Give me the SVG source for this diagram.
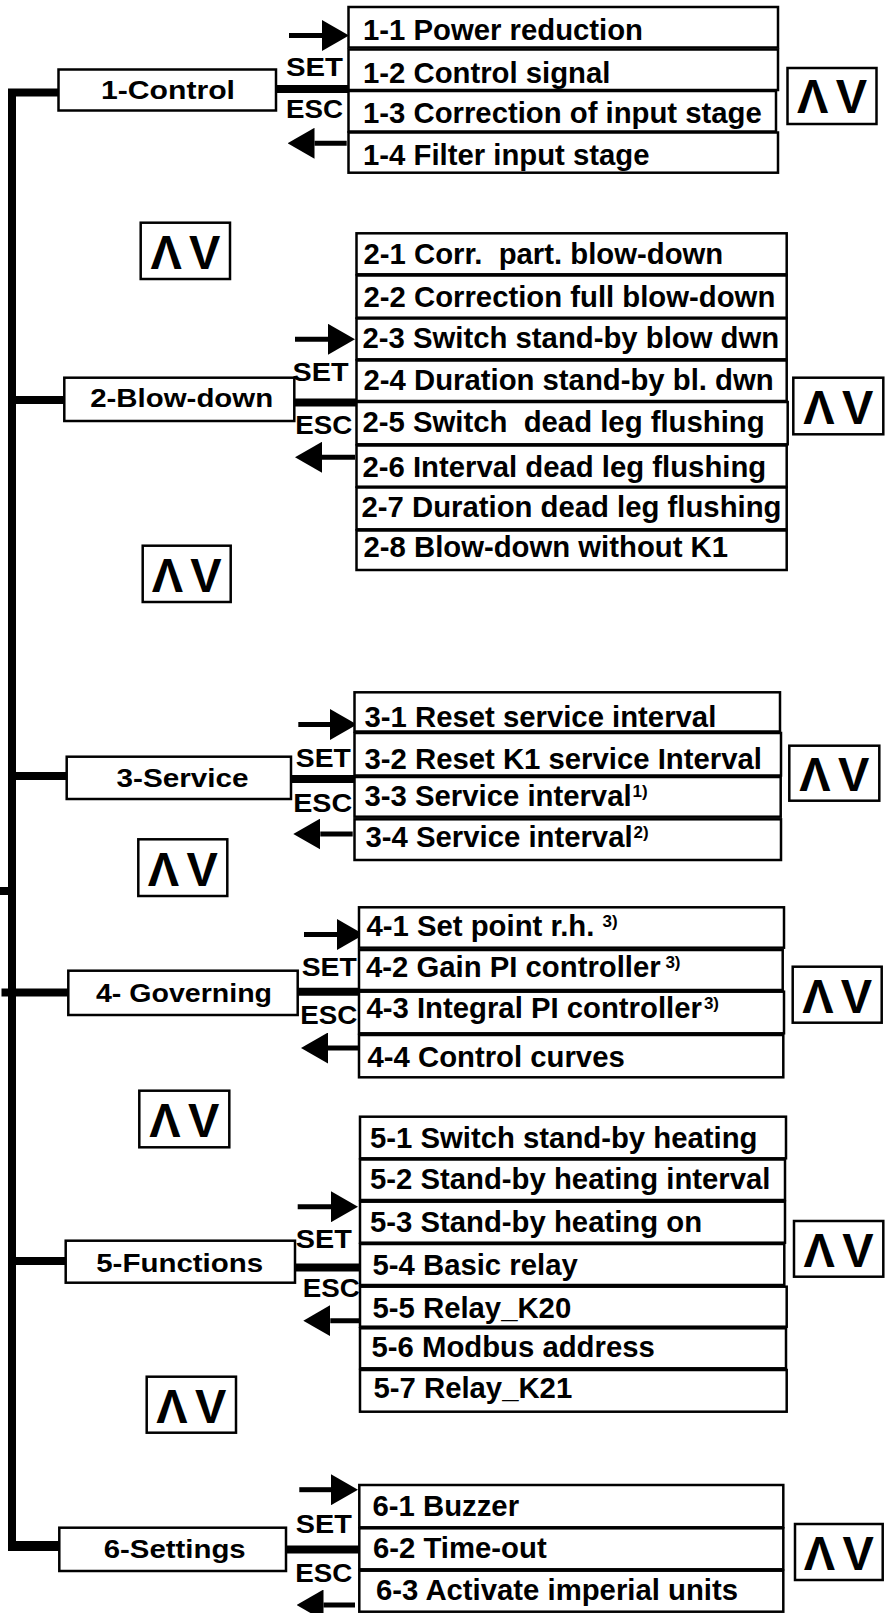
<svg xmlns="http://www.w3.org/2000/svg" width="890" height="1613" viewBox="0 0 890 1613">
<style>
.box{fill:#fff;stroke:#000;stroke-width:2.5}
.t{font-family:"Liberation Sans",Arial,sans-serif;font-weight:bold;fill:#000}
.item{font-size:29.3px}
.main{font-size:26px;text-anchor:middle}
.key{font-size:26px;text-anchor:middle}
.av{font-size:49px;text-anchor:middle;word-spacing:-6px}
.sup{font-size:17px}
.thick{stroke:#000;stroke-width:8;fill:none}
.arr{stroke:#000;stroke-width:5;fill:none;marker-end:url(#head)}
</style>
<defs>
<marker id="head" markerUnits="userSpaceOnUse" markerWidth="27" markerHeight="31" refX="0" refY="15.5" orient="auto" viewBox="0 0 27 31"><path d="M0,0 L27,15.5 L0,31 Z" fill="#000"/></marker>
</defs>
<rect width="890" height="1613" fill="#fff"/>
<g id="connectors">
<path class="thick" d="M58,92.5 H12 V1546"/>
<line class="thick" x1="8" y1="1546" x2="62" y2="1546" style="stroke-width:10"/>
<line class="thick" x1="12" y1="400" x2="65" y2="400"/>
<line class="thick" x1="12" y1="776" x2="67" y2="776"/>
<line class="thick" x1="0" y1="891" x2="12" y2="891"/>
<line class="thick" x1="1.5" y1="992.5" x2="69" y2="992.5"/>
<line class="thick" x1="12" y1="1261" x2="66" y2="1261"/>
<line class="thick" x1="276" y1="89" x2="349" y2="89"/>
<line class="thick" x1="294" y1="402.5" x2="357" y2="402.5"/>
<line class="thick" x1="291" y1="779" x2="355" y2="779"/>
<line class="thick" x1="297" y1="991.7" x2="359" y2="991.7"/>
<line class="thick" x1="295" y1="1267.5" x2="360" y2="1267.5"/>
<line class="thick" x1="286" y1="1549.5" x2="360" y2="1549.5"/>
<line class="arr" x1="289" y1="35.5" x2="322" y2="35.5"/>
<line class="arr" x1="346.7" y1="143.3" x2="314.5" y2="143.3"/>
<line class="arr" x1="295" y1="339.3" x2="328" y2="339.3"/>
<line class="arr" x1="355" y1="457.3" x2="322" y2="457.3"/>
<line class="arr" x1="298.3" y1="724.5" x2="330" y2="724.5"/>
<line class="arr" x1="352.7" y1="834" x2="320.3" y2="834"/>
<line class="arr" x1="304" y1="934.5" x2="337" y2="934.5"/>
<line class="arr" x1="360" y1="1048" x2="328" y2="1048"/>
<line class="arr" x1="297.7" y1="1206.7" x2="331" y2="1206.7"/>
<line class="arr" x1="362.7" y1="1320.7" x2="330.3" y2="1320.7"/>
<line class="arr" x1="299.3" y1="1489.7" x2="331" y2="1489.7"/>
<line class="arr" x1="355" y1="1605" x2="323.5" y2="1605"/>
<text class="t key" x="314.5" y="76" textLength="57" lengthAdjust="spacingAndGlyphs">SET</text>
<text class="t key" x="314.5" y="118" textLength="57" lengthAdjust="spacingAndGlyphs">ESC</text>
<text class="t key" x="320.5" y="381" textLength="56" lengthAdjust="spacingAndGlyphs">SET</text>
<text class="t key" x="323.8" y="434.3" textLength="57" lengthAdjust="spacingAndGlyphs">ESC</text>
<text class="t key" x="323.3" y="767.3" textLength="55" lengthAdjust="spacingAndGlyphs">SET</text>
<text class="t key" x="322.7" y="812.3" textLength="59" lengthAdjust="spacingAndGlyphs">ESC</text>
<text class="t key" x="329.2" y="975.7" textLength="55" lengthAdjust="spacingAndGlyphs">SET</text>
<text class="t key" x="328.7" y="1024.3" textLength="57" lengthAdjust="spacingAndGlyphs">ESC</text>
<text class="t key" x="323.8" y="1248.3" textLength="56" lengthAdjust="spacingAndGlyphs">SET</text>
<text class="t key" x="331.3" y="1296.7" textLength="57" lengthAdjust="spacingAndGlyphs">ESC</text>
<text class="t key" x="323.8" y="1533.3" textLength="56" lengthAdjust="spacingAndGlyphs">SET</text>
<text class="t key" x="323.8" y="1581.7" textLength="57" lengthAdjust="spacingAndGlyphs">ESC</text>
</g>
<g id="m1"><rect class="box" x="58.5" y="69.5" width="217.5" height="41"/><text class="t main" x="168" y="99.3" textLength="134" lengthAdjust="spacingAndGlyphs">1-Control</text></g>
<g id="m2"><rect class="box" x="64.3" y="377.7" width="230" height="43.3"/><text class="t main" x="181.7" y="407.3" textLength="183" lengthAdjust="spacingAndGlyphs">2-Blow-down</text></g>
<g id="m3"><rect class="box" x="66.7" y="756.7" width="224.3" height="42.3"/><text class="t main" x="182.5" y="787.3" textLength="132" lengthAdjust="spacingAndGlyphs">3-Service</text></g>
<g id="m4"><rect class="box" x="68.3" y="970.7" width="229.4" height="44.3"/><text class="t main" x="184" y="1001.7" textLength="176" lengthAdjust="spacingAndGlyphs">4- Governing</text></g>
<g id="m5"><rect class="box" x="65.7" y="1240.7" width="229.3" height="42"/><text class="t main" x="179.7" y="1271.7" textLength="167" lengthAdjust="spacingAndGlyphs">5-Functions</text></g>
<g id="m6"><rect class="box" x="59.3" y="1527.7" width="226.7" height="43.3"/><text class="t main" x="174.7" y="1557.7" textLength="142" lengthAdjust="spacingAndGlyphs">6-Settings</text></g>
<g id="s1-1"><rect class="box" x="348.5" y="7" width="429.5" height="40.5"/><text class="t item" x="363" y="40">1-1 Power reduction</text></g>
<g id="s1-2"><rect class="box" x="348.5" y="49.5" width="429.5" height="40.5"/><text class="t item" x="363" y="82.7">1-2 Control signal</text></g>
<g id="s1-3"><rect class="box" x="348.5" y="91" width="427.5" height="40.5"/><text class="t item" x="363" y="123.3">1-3 Correction of input stage</text></g>
<g id="s1-4"><rect class="box" x="348.5" y="132.5" width="429.5" height="40.2"/><text class="t item" x="363" y="165">1-4 Filter input stage</text></g>
<g id="s2-1"><rect class="box" x="356.5" y="233.3" width="430.2" height="41"/><text class="t item" x="363.5" y="264.3" xml:space="preserve">2-1 Corr.  part. blow-down</text></g>
<g id="s2-2"><rect class="box" x="356.5" y="275.5" width="430.2" height="42.2"/><text class="t item" x="363.5" y="306.7">2-2 Correction full blow-down</text></g>
<g id="s2-3"><rect class="box" x="356.5" y="318.5" width="430.2" height="40.8"/><text class="t item" x="362.5" y="347.7">2-3 Switch stand-by blow dwn</text></g>
<g id="s2-4"><rect class="box" x="356.5" y="360.5" width="430.2" height="40.5"/><text class="t item" x="363.5" y="390">2-4 Duration stand-by bl. dwn</text></g>
<g id="s2-5"><rect class="box" x="356.5" y="402" width="431.2" height="42.3"/><text class="t item" x="362.5" y="431.7" xml:space="preserve">2-5 Switch  dead leg flushing</text></g>
<g id="s2-6"><rect class="box" x="356.5" y="445.5" width="430.2" height="41.2"/><text class="t item" x="362.5" y="476.7">2-6 Interval dead leg flushing</text></g>
<g id="s2-7"><rect class="box" x="356.5" y="487.5" width="430.2" height="41.8"/><text class="t item" x="361.5" y="517.3">2-7 Duration dead leg flushing</text></g>
<g id="s2-8"><rect class="box" x="356.5" y="530.5" width="430.2" height="39.5"/><text class="t item" x="363.5" y="556.7">2-8 Blow-down without K1</text></g>
<g id="s3-1"><rect class="box" x="354.5" y="692.3" width="425.5" height="39.2"/><text class="t item" x="364.5" y="726.7">3-1 Reset service interval</text></g>
<g id="s3-2"><rect class="box" x="354.5" y="733" width="426.5" height="42.5"/><text class="t item" x="364.5" y="769.3">3-2 Reset K1 service Interval</text></g>
<g id="s3-3"><rect class="box" x="354.5" y="777" width="426.2" height="39.7"/><text class="t item" x="364.5" y="806">3-3 Service interval<tspan class="sup" dx="1" dy="-9">1)</tspan></text></g>
<g id="s3-4"><rect class="box" x="354.5" y="819.3" width="426.5" height="40.7"/><text class="t item" x="365.5" y="846.7">3-4 Service interval<tspan class="sup" dx="1" dy="-9">2)</tspan></text></g>
<g id="s4-1"><rect class="box" x="359" y="907.3" width="425" height="40.4"/><text class="t item" x="366.5" y="936" xml:space="preserve">4-1 Set point r.h. <tspan class="sup" dy="-9">3)</tspan></text></g>
<g id="s4-2"><rect class="box" x="359" y="950" width="423.7" height="40"/><text class="t item" x="366" y="976.7" xml:space="preserve">4-2 Gain PI controller<tspan class="sup" dy="-9"> 3)</tspan></text></g>
<g id="s4-3"><rect class="box" x="359" y="991.7" width="425" height="41.6"/><text class="t item" x="366.5" y="1018.3">4-3 Integral PI controller<tspan class="sup" dx="2" dy="-9">3)</tspan></text></g>
<g id="s4-4"><rect class="box" x="359" y="1035" width="424.3" height="42.3"/><text class="t item" x="367.5" y="1066.7">4-4 Control curves</text></g>
<g id="s5-1"><rect class="box" x="360" y="1116.7" width="426" height="41.6"/><text class="t item" x="370" y="1148.3">5-1 Switch stand-by heating</text></g>
<g id="s5-2"><rect class="box" x="360" y="1159.5" width="425" height="40.5"/><text class="t item" x="370" y="1189.3">5-2 Stand-by heating interval</text></g>
<g id="s5-3"><rect class="box" x="360" y="1201.7" width="425" height="41"/><text class="t item" x="370" y="1231.7">5-3 Stand-by heating on</text></g>
<g id="s5-4"><rect class="box" x="360" y="1244" width="424.3" height="41"/><text class="t item" x="372.5" y="1275">5-4 Basic relay</text></g>
<g id="s5-5"><rect class="box" x="360" y="1286.7" width="426.7" height="40"/><text class="t item" x="372.5" y="1318.3">5-5 Relay_K20</text></g>
<g id="s5-6"><rect class="box" x="360" y="1328.3" width="426" height="40"/><text class="t item" x="371.5" y="1356.7">5-6 Modbus address</text></g>
<g id="s5-7"><rect class="box" x="360" y="1370" width="426.7" height="41.7"/><text class="t item" x="373.5" y="1398.3">5-7 Relay_K21</text></g>
<g id="s6-1"><rect class="box" x="359.3" y="1485" width="424" height="42.3"/><text class="t item" x="372.5" y="1516">6-1 Buzzer</text></g>
<g id="s6-2"><rect class="box" x="359.3" y="1528.3" width="424" height="41"/><text class="t item" x="373" y="1558">6-2 Time-out</text></g>
<g id="s6-3"><rect class="box" x="359.3" y="1570.7" width="424" height="41"/><text class="t item" x="376" y="1600">6-3 Activate imperial units</text></g>
<g id="k1"><rect class="box" x="787.5" y="68" width="89" height="56"/><text class="t av" x="832" y="113" textLength="70" lengthAdjust="spacingAndGlyphs">Λ V</text></g>
<g id="k2"><rect class="box" x="140.7" y="222.7" width="89.3" height="56.3"/><text class="t av" x="185.4" y="269" textLength="70" lengthAdjust="spacingAndGlyphs">Λ V</text></g>
<g id="k3"><rect class="box" x="793.3" y="377.7" width="90" height="56.6"/><text class="t av" x="838.3" y="424" textLength="70" lengthAdjust="spacingAndGlyphs">Λ V</text></g>
<g id="k4"><rect class="box" x="142.7" y="545.7" width="88" height="56.3"/><text class="t av" x="186.7" y="592" textLength="70" lengthAdjust="spacingAndGlyphs">Λ V</text></g>
<g id="k5"><rect class="box" x="789.3" y="745.7" width="90" height="55"/><text class="t av" x="834.3" y="791" textLength="70" lengthAdjust="spacingAndGlyphs">Λ V</text></g>
<g id="k6"><rect class="box" x="138.3" y="839.3" width="89" height="56.7"/><text class="t av" x="182.8" y="886" textLength="70" lengthAdjust="spacingAndGlyphs">Λ V</text></g>
<g id="k7"><rect class="box" x="792.7" y="966.7" width="89" height="56"/><text class="t av" x="837.2" y="1013" textLength="70" lengthAdjust="spacingAndGlyphs">Λ V</text></g>
<g id="k8"><rect class="box" x="139.3" y="1090.7" width="90" height="56.6"/><text class="t av" x="184.3" y="1137" textLength="70" lengthAdjust="spacingAndGlyphs">Λ V</text></g>
<g id="k9"><rect class="box" x="794" y="1221" width="89.3" height="55.7"/><text class="t av" x="838.6" y="1267" textLength="70" lengthAdjust="spacingAndGlyphs">Λ V</text></g>
<g id="k10"><rect class="box" x="146.7" y="1376.7" width="89.3" height="56"/><text class="t av" x="191.3" y="1423" textLength="70" lengthAdjust="spacingAndGlyphs">Λ V</text></g>
<g id="k11"><rect class="box" x="795" y="1524" width="87.7" height="56"/><text class="t av" x="838.8" y="1570" textLength="70" lengthAdjust="spacingAndGlyphs">Λ V</text></g>
</svg>
